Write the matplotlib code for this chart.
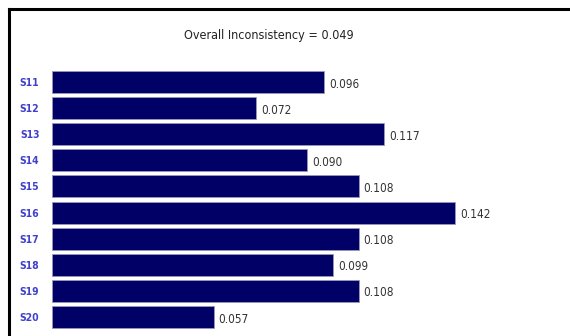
import matplotlib.pyplot as plt
from matplotlib.lines import Line2D

# data
labels = ['S11', 'S12', 'S13', 'S14', 'S15', 'S16', 'S17', 'S18', 'S19', 'S20']
values = [0.096, 0.072, 0.117, 0.090, 0.108, 0.142, 0.108, 0.099, 0.108, 0.057]
overall = 0.049

plt.rcParams['font.family'] = ['DejaVu Sans']
plt.rcParams['font.stretch'] = 'condensed'

W, H = 570, 336
fig = plt.figure(figsize=(W / 100, H / 100), dpi=100)

# frame: top and left lines only
fig.add_artist(Line2D([8.5 / W, 1], [1 - 8.5 / H, 1 - 8.5 / H], color='black', lw=2.2))
fig.add_artist(Line2D([8.5 / W, 8.5 / W], [0, 1 - 8.5 / H], color='black', lw=2.2))

fig.text(269 / W, 1 - 36 / H, f'Overall Inconsistency = {overall:.3f}',
         ha='center', va='center', fontsize=9, color='#222222')

ax_left, ax_right = 52, 560
ax_top = 60
ax = fig.add_axes([ax_left / W, 0, (ax_right - ax_left) / W, (H - ax_top) / H])

pos = list(range(len(labels)))
ax.barh(pos, values, height=0.84, color='#000066', edgecolor='#9999bb', linewidth=0.6)
for p, v in zip(pos, values):
    ax.text(v + 0.0017, p + 0.08, f'{v:.3f}', va='center', ha='left',
            fontsize=8.5, color='#333333')

px_x = 2838.0  # pixels per unit
ax.set_xlim(0, (ax_right - ax_left) / px_x)
px_y = 26.1
ax.set_ylim(9 + (H - 317) / px_y, -(82 - ax_top) / px_y)

ax.set_yticks(pos)
ax.set_yticklabels(labels, fontsize=7.5, color='#4040cc', fontweight='semibold')
ax.tick_params(axis='y', length=0, pad=9)
ax.set_xticks([])
for s in ax.spines.values():
    s.set_visible(False)

fig.savefig('out.png', dpi=100)
